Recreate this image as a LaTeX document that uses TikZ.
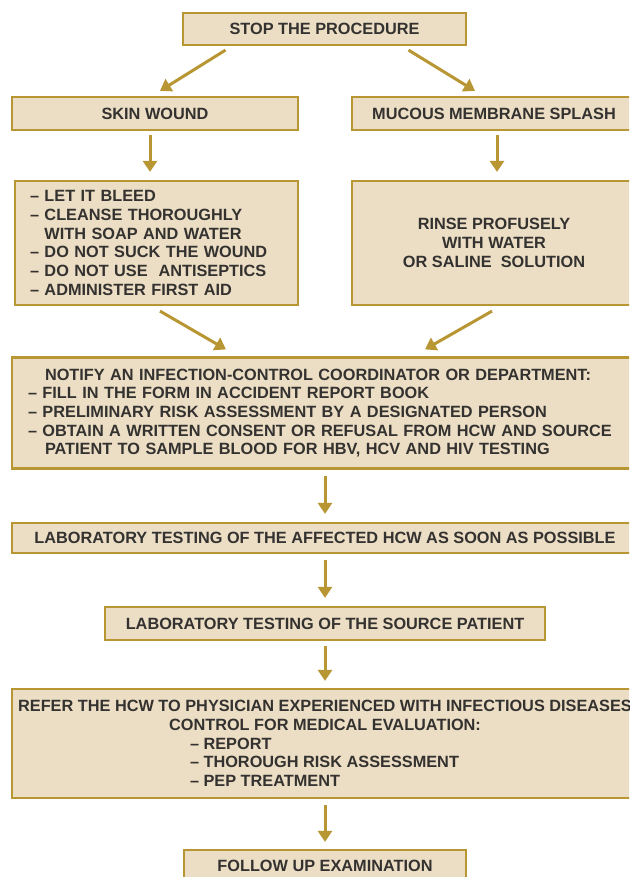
\documentclass[tikz,border=0pt]{standalone}
\usepackage{fontspec}
\setmainfont{Liberation Sans}
\usetikzlibrary{arrows.meta}
\definecolor{boxfill}{RGB}{236,222,196}
\definecolor{boxline}{RGB}{185,150,52}
\definecolor{boxtext}{RGB}{52,50,48}

\tikzset{
  stepbox/.style={draw=boxline, fill=boxfill, line width=2.2pt, inner sep=0pt,
    text=boxtext, font=\bfseries\fontsize{16.3}{18.7}\selectfont},
  flow/.style={draw=boxline, line width=3pt, -{Triangle[width=14pt,length=11pt]}},
}

\begin{document}
\begin{tikzpicture}[x=1pt,y=-1pt]
      \clip (0,0) rectangle (629,877);
      % boxes
      \node[stepbox, minimum width=283pt, minimum height=32pt] (stop) at (324.5,29) {STOP THE PROCEDURE};
      \node[stepbox, minimum width=286pt, minimum height=33pt] (skin) at (155,113.5) {SKIN WOUND};
      \node[stepbox, minimum width=284pt, minimum height=33pt] (mucous) at (494,113.5) {MUCOUS MEMBRANE SPLASH};
      \node[stepbox, minimum width=283pt, minimum height=124pt, text width=253pt, align=left] (bleed) at (156.5,243)
        {-- LET IT BLEED\\ -- CLEANSE THOROUGHLY\\ \hphantom{-- }WITH SOAP AND WATER\\ -- DO NOT SUCK THE WOUND\\ -- DO NOT USE~ ANTISEPTICS\\ -- ADMINISTER FIRST AID};
      \node[stepbox, minimum width=284pt, minimum height=124pt, align=center] (rinse) at (494,243)
        {RINSE PROFUSELY\\ WITH WATER\\ OR SALINE~ SOLUTION};
      \node[stepbox, minimum width=626pt, minimum height=111pt, text width=594pt, align=left] (notify) at (325,413)
        {\hspace{17pt}NOTIFY AN INFECTION-CONTROL COORDINATOR OR DEPARTMENT:\\
         -- FILL IN THE FORM IN ACCIDENT REPORT BOOK\\
         -- PRELIMINARY RISK ASSESSMENT BY A DESIGNATED PERSON\\
         -- OBTAIN A WRITTEN CONSENT OR REFUSAL FROM HCW AND SOURCE\\
         \hspace{17pt}PATIENT TO SAMPLE BLOOD FOR HBV, HCV AND HIV TESTING};
      \node[stepbox, minimum width=626pt, minimum height=30pt] (labhcw) at (325,538)
        {LABORATORY TESTING OF THE AFFECTED HCW AS SOON AS POSSIBLE};
      \node[stepbox, minimum width=440pt, minimum height=33pt] (labsrc) at (325,623.5)
        {LABORATORY TESTING OF THE SOURCE PATIENT};
      \node[stepbox, minimum width=626pt, minimum height=109pt, align=center] (refer) at (325,743.5)
        {REFER THE HCW TO PHYSICIAN EXPERIENCED WITH INFECTIOUS DISEASES\\
         CONTROL FOR MEDICAL EVALUATION:\\
         \makebox[270pt][l]{-- REPORT}\\
         \makebox[270pt][l]{-- THOROUGH RISK ASSESSMENT}\\
         \makebox[270pt][l]{-- PEP TREATMENT}};
      \node[stepbox, minimum width=282pt, minimum height=32pt] (follow) at (325,866) {FOLLOW UP EXAMINATION};
      % arrows
      \draw[flow] ([xshift=-99pt,yshift=-4pt]stop.south) -- ([xshift=5pt,yshift=5pt]skin.north);
      \draw[flow] ([xshift=84pt,yshift=-4pt]stop.south) -- ([xshift=-19pt,yshift=5pt]mucous.north);
      \draw[flow] ([xshift=-5pt,yshift=-4pt]skin.south) -- ([xshift=-6.5pt,yshift=8pt]bleed.north);
      \draw[flow] ([xshift=3pt,yshift=-4pt]mucous.south) -- ([xshift=3pt,yshift=8pt]rinse.north);
      \draw[flow] ([xshift=3.5pt,yshift=-5pt]bleed.south) -- ([xshift=-99pt,yshift=7pt]notify.north);
      \draw[flow] ([xshift=-2pt,yshift=-5pt]rinse.south) -- ([xshift=100pt,yshift=7pt]notify.north);
      \draw[flow] ([yshift=-6pt]notify.south) -- ([yshift=8pt]labhcw.north);
      \draw[flow] ([yshift=-6pt]labhcw.south) -- ([yshift=8pt]labsrc.north);
      \draw[flow] ([yshift=-5pt]labsrc.south) -- ([yshift=7pt]refer.north);
      \draw[flow] ([yshift=-6pt]refer.south) -- ([yshift=7pt]follow.north);
\end{tikzpicture}
\end{document}
